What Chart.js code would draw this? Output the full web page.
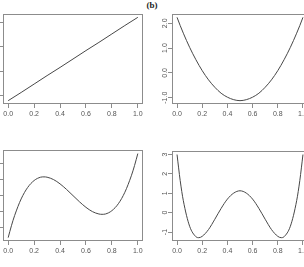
<!DOCTYPE html>
<html>
<head>
<meta charset="utf-8">
<script src="https://cdn.jsdelivr.net/npm/chart.js@4"></script>
<style>
  html, body { margin: 0; padding: 0; background: #fff; }
  body { width: 304px; height: 267px; position: relative; overflow: hidden; }
  .panel { position: absolute; }
  #title { position: absolute; left: 0; width: 304px; top: 0; text-align: center;
           font: bold 9px "Liberation Serif", serif; color: #222; }
</style>
</head>
<body>
<div id="title">(b)</div>
<div class="panel" id="p1"><canvas id="c1"></canvas></div>
<div class="panel" id="p2"><canvas id="c2"></canvas></div>
<div class="panel" id="p3"><canvas id="c3"></canvas></div>
<div class="panel" id="p4"><canvas id="c4"></canvas></div>
<script>
// x tick labels shared by all four panels
var xTicks = [0, 0.2, 0.4, 0.6, 0.8, 1.0];

// panel 1 (linear)
var x1 = [0, 0.1, 0.2, 0.3, 0.4, 0.5, 0.6, 0.7, 0.8, 0.9, 1];
var y1 = [-1.73, -1.39, -1.04, -0.69, -0.35, 0, 0.35, 0.69, 1.04, 1.39, 1.73];
var yTicks1 = [-1.5, -1, -0.5, 0, 0.5, 1, 1.5];

// panel 2 (quadratic)
var x2 = [0, 0.025, 0.05, 0.1, 0.15, 0.2, 0.25, 0.3, 0.35, 0.4, 0.45, 0.5,
          0.55, 0.6, 0.65, 0.7, 0.75, 0.8, 0.85, 0.9, 0.95, 0.975, 1];
var y2 = [2.24, 1.91, 1.60, 1.03, 0.53, 0.09, -0.28, -0.58, -0.82, -0.98, -1.08, -1.12,
          -1.08, -0.98, -0.82, -0.58, -0.28, 0.09, 0.53, 1.03, 1.60, 1.91, 2.24];
var yTicks2 = [-1, -0.5, 0, 0.5, 1, 1.5, 2];

// panel 3 (cubic)
var x3 = [0, 0.025, 0.05, 0.1, 0.15, 0.2, 0.25, 0.276, 0.3, 0.35, 0.4, 0.45, 0.5,
          0.55, 0.6, 0.65, 0.7, 0.724, 0.75, 0.8, 0.85, 0.9, 0.95, 0.975, 1];
var y3 = [-2.65, -1.90, -1.25, -0.21, 0.51, 0.95, 1.16, 1.18, 1.16, 1.01, 0.74, 0.39, 0,
          -0.39, -0.74, -1.01, -1.16, -1.18, -1.16, -0.95, -0.51, 0.21, 1.25, 1.90, 2.65];
var yTicks3 = [-2, -1, 0, 1, 2];

// panel 4 (quartic)
var x4 = [0, 0.025, 0.05, 0.1, 0.15, 0.173, 0.2, 0.25, 0.3, 0.35, 0.4, 0.45, 0.5,
          0.55, 0.6, 0.65, 0.7, 0.75, 0.8, 0.827, 0.85, 0.9, 0.95, 0.975, 1];
var y4 = [3, 1.66, 0.62, -0.70, -1.24, -1.29, -1.22, -0.87, -0.34, 0.22, 0.70, 1.01, 1.13,
          1.01, 0.70, 0.22, -0.34, -0.87, -1.22, -1.29, -1.24, -0.70, 0.62, 1.66, 3];
var yTicks4 = [-1, 0, 1, 2, 3];

var AXW = 30, AXH = 22, PT = 4, PR = 12;
var FONT = { family: '"Liberation Sans", Arial, sans-serif', size: 7 };

// draws the full R-style box around the plot region
var boxPlugin = {
  id: 'box',
  afterDraw: function(chart) {
    var a = chart.chartArea, ctx = chart.ctx;
    ctx.save();
    ctx.strokeStyle = '#8c8c8c';
    ctx.lineWidth = 1;
    ctx.strokeRect(Math.round(a.left) + 0.5, Math.round(a.top) + 0.5,
                   Math.round(a.right - a.left) - 1, Math.round(a.bottom - a.top) - 1);
    ctx.restore();
  }
};

function makePanel(id, canvasId, box, xs, ys, yTicks, yFmt, yPad) {
  var el = document.getElementById(id);
  var w = AXW + box.w + PR, h = PT + box.h + AXH;
  el.style.left = (box.x - AXW) + 'px';
  el.style.top = (box.y - PT) + 'px';
  var cv = document.getElementById(canvasId);
  cv.width = w; cv.height = h;
  cv.style.width = w + 'px'; cv.style.height = h + 'px';

  var lo = Math.min.apply(null, ys), hi = Math.max.apply(null, ys);
  var ext = (hi - lo) * 0.04;
  var pts = xs.map(function(x, i) { return { x: x, y: ys[i] }; });

  return new Chart(cv, {
    type: 'line',
    data: { datasets: [{
      data: pts,
      borderColor: '#474747',
      borderWidth: 1,
      pointRadius: 0,
      fill: false,
      cubicInterpolationMode: 'monotone'
    }] },
    options: {
      responsive: false,
      animation: false,
      events: [],
      layout: { padding: { top: PT, right: PR, left: 0, bottom: 0 } },
      plugins: { legend: { display: false }, tooltip: { enabled: false }, title: { display: false } },
      scales: {
        x: {
          type: 'linear',
          min: -0.04, max: 1.04,
          afterBuildTicks: function(s) { s.ticks = xTicks.map(function(v) { return { value: v }; }); },
          afterFit: function(s) { s.height = AXH; },
          border: { display: false },
          grid: { drawOnChartArea: false, drawTicks: true, tickLength: 4, color: '#8c8c8c' },
          ticks: { font: FONT, color: '#555', padding: 2, maxRotation: 0,
                   callback: function(v) { return v.toFixed(1); } }
        },
        y: {
          type: 'linear',
          min: lo - ext, max: hi + ext,
          afterBuildTicks: function(s) { s.ticks = yTicks.map(function(v) { return { value: v }; }); },
          afterFit: function(s) { s.width = AXW; },
          border: { display: false },
          grid: { drawOnChartArea: false, drawTicks: true, tickLength: 4, color: '#8c8c8c' },
          ticks: { font: FONT, color: '#555', padding: yPad, minRotation: 90, maxRotation: 90,
                   crossAlign: 'center', callback: yFmt }
        }
      }
    },
    plugins: [boxPlugin]
  });
}

function fmtHalf(v) { return Number.isInteger(v) ? v.toFixed(1) : ''; }
function fmtInt(v) { return String(v); }

makePanel('p1', 'c1', { x: 3, y: 14, w: 140, h: 90 }, x1, y1, yTicks1, fmtHalf, -3);
makePanel('p2', 'c2', { x: 172, y: 14, w: 136, h: 90 }, x2, y2, yTicks2, fmtHalf, -3);
makePanel('p3', 'c3', { x: 3, y: 150, w: 140, h: 91 }, x3, y3, yTicks3, fmtInt, 0);
makePanel('p4', 'c4', { x: 172, y: 151, w: 136, h: 90 }, x4, y4, yTicks4, fmtInt, 0);
</script>
</body>
</html>
